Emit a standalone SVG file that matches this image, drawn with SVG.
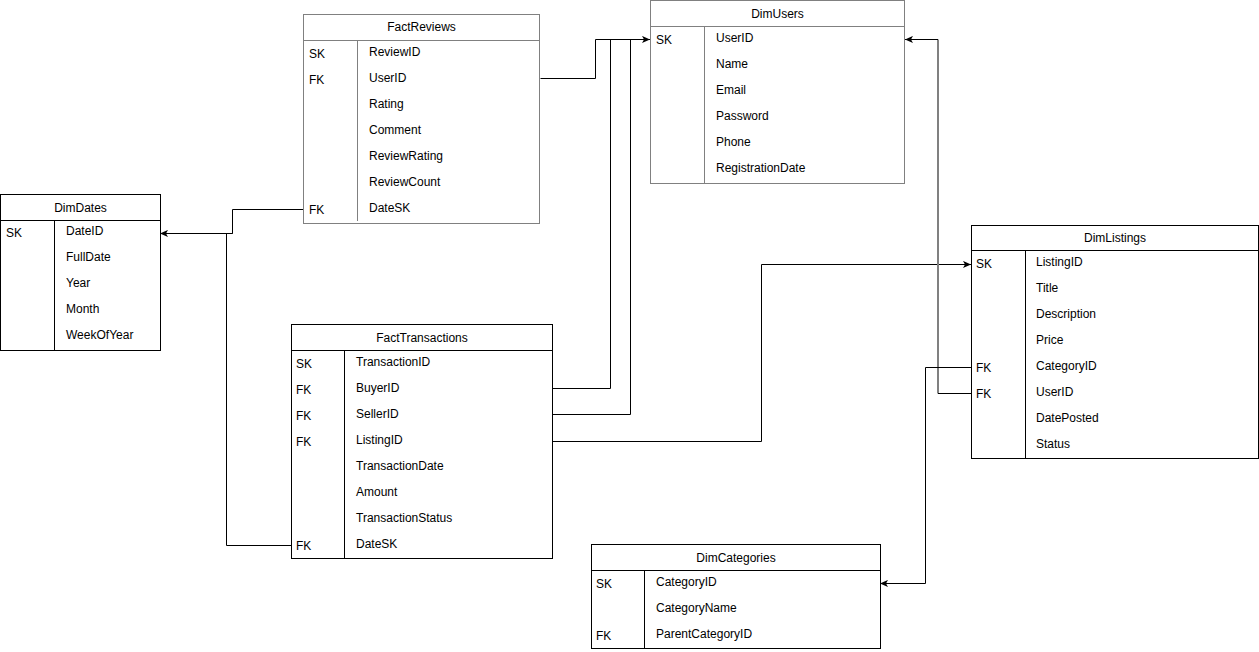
<svg xmlns="http://www.w3.org/2000/svg" width="1259" height="652" viewBox="0 0 1259 652">
<style>
text{font-family:"Liberation Sans",Arial,sans-serif;font-size:12px;fill:#000}
.t{text-anchor:middle}
.box{fill:#fff;stroke:#000;stroke-width:1}
.g .box,.g .ln{stroke:#808080}
.ln{stroke:#000;stroke-width:1;fill:none}
.c{fill:none;stroke:#000;stroke-width:1}
.cg{fill:none;stroke:#808080;stroke-width:2}
</style>
<defs>
<marker id="a" viewBox="0 0 10 10" refX="10" refY="5" markerWidth="8" markerHeight="8" markerUnits="userSpaceOnUse" orient="auto">
<path d="M0,0.5 L10,5 L0,9.5 L2.5,5 Z" fill="#000"/>
</marker>
</defs>
<rect width="1259" height="652" fill="#fff"/>
<g id="connectors">
<polyline class="c" points="540.5,78.5 595.5,78.5 595.5,39.5 650,39.5" marker-end="url(#a)"/>
<polyline class="c" points="552.5,388.5 610.5,388.5 610.5,39.5 640,39.5"/>
<polyline class="c" points="552.5,414.5 630.5,414.5 630.5,39.5 640,39.5"/>
<polyline class="c" points="552.5,441.5 761.5,441.5 761.5,264.5 971,264.5" marker-end="url(#a)"/>
<line class="cg" x1="938" y1="39.5" x2="938" y2="393.5"/>
<polyline class="c" points="971,393.5 938,393.5"/>
<polyline class="c" points="938,39.5 905,39.5" marker-end="url(#a)"/>
<polyline class="c" points="971,367.5 925.5,367.5 925.5,583.5 880,583.5" marker-end="url(#a)"/>
<polyline class="c" points="303,209.5 232.5,209.5 232.5,233.5 160,233.5" marker-end="url(#a)"/>
<polyline class="c" points="291,545.5 226.5,545.5 226.5,233.5 232.5,233.5"/>
</g>
<g id="FactReviews" class="g">
<rect class="box" x="303.5" y="14.5" width="236" height="209"/>
<line class="ln" x1="303.5" y1="40.5" x2="539.5" y2="40.5"/>
<line class="ln" x1="357.5" y1="40.5" x2="357.5" y2="221"/>
<text class="t" x="421.5" y="31">FactReviews</text>
<text x="309" y="58">SK</text><text x="369" y="56">ReviewID</text>
<text x="309" y="84">FK</text><text x="369" y="82">UserID</text>
<text x="369" y="108">Rating</text>
<text x="369" y="134">Comment</text>
<text x="369" y="160">ReviewRating</text>
<text x="369" y="186">ReviewCount</text>
<text x="309" y="214">FK</text><text x="369" y="212">DateSK</text>
</g>
<g id="DimUsers" class="g">
<rect class="box" x="650.5" y="0.5" width="254" height="183"/>
<line class="ln" x1="650.5" y1="26.5" x2="904.5" y2="26.5"/>
<line class="ln" x1="704.5" y1="26.5" x2="704.5" y2="183.5"/>
<text class="t" x="777.5" y="18">DimUsers</text>
<text x="656" y="44">SK</text><text x="716" y="42">UserID</text>
<text x="716" y="68">Name</text>
<text x="716" y="94">Email</text>
<text x="716" y="120">Password</text>
<text x="716" y="146">Phone</text>
<text x="716" y="172">RegistrationDate</text>
</g>
<g id="DimDates">
<rect class="box" x="0.5" y="194.5" width="160" height="156"/>
<line class="ln" x1="0.5" y1="220.5" x2="160.5" y2="220.5"/>
<line class="ln" x1="54.5" y1="220.5" x2="54.5" y2="350.5"/>
<text class="t" x="80.5" y="212">DimDates</text>
<text x="6" y="237">SK</text><text x="66" y="235">DateID</text>
<text x="66" y="261">FullDate</text>
<text x="66" y="287">Year</text>
<text x="66" y="313">Month</text>
<text x="66" y="339">WeekOfYear</text>
</g>
<g id="FactTransactions">
<rect class="box" x="291.5" y="324.5" width="261" height="234"/>
<line class="ln" x1="291.5" y1="350.5" x2="552.5" y2="350.5"/>
<line class="ln" x1="344.5" y1="350.5" x2="344.5" y2="558.5"/>
<text class="t" x="422" y="342">FactTransactions</text>
<text x="296" y="368">SK</text><text x="356" y="366">TransactionID</text>
<text x="296" y="394">FK</text><text x="356" y="392">BuyerID</text>
<text x="296" y="420">FK</text><text x="356" y="418">SellerID</text>
<text x="296" y="446">FK</text><text x="356" y="444">ListingID</text>
<text x="356" y="470">TransactionDate</text>
<text x="356" y="496">Amount</text>
<text x="356" y="522">TransactionStatus</text>
<text x="296" y="550">FK</text><text x="356" y="548">DateSK</text>
</g>
<g id="DimListings">
<rect class="box" x="971.5" y="225.5" width="287" height="233"/>
<line class="ln" x1="971.5" y1="250.5" x2="1258.5" y2="250.5"/>
<line class="ln" x1="1025.5" y1="250.5" x2="1025.5" y2="458.5"/>
<text class="t" x="1115" y="242">DimListings</text>
<text x="976" y="268">SK</text><text x="1036" y="266">ListingID</text>
<text x="1036" y="292">Title</text>
<text x="1036" y="318">Description</text>
<text x="1036" y="344">Price</text>
<text x="976" y="372">FK</text><text x="1036" y="370">CategoryID</text>
<text x="976" y="398">FK</text><text x="1036" y="396">UserID</text>
<text x="1036" y="422">DatePosted</text>
<text x="1036" y="448">Status</text>
</g>
<g id="DimCategories">
<rect class="box" x="591.5" y="544.5" width="289" height="104"/>
<line class="ln" x1="591.5" y1="570.5" x2="880.5" y2="570.5"/>
<line class="ln" x1="644.5" y1="570.5" x2="644.5" y2="648.5"/>
<text class="t" x="736" y="562">DimCategories</text>
<text x="596" y="588">SK</text><text x="656" y="586">CategoryID</text>
<text x="656" y="612">CategoryName</text>
<text x="596" y="640">FK</text><text x="656" y="638">ParentCategoryID</text>
</g>
</svg>
